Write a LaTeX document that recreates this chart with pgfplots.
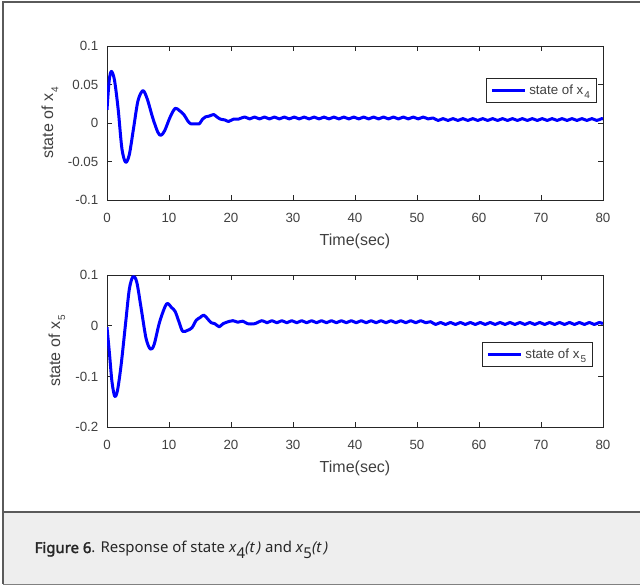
\documentclass[border=0pt]{standalone}
\usepackage{fontspec}
\setmainfont{Liberation Sans}
\newfontfamily\capfont{Noto Sans}
\newfontfamily\capfontb{Noto Sans}[FakeBold=2.2]
\usepackage{pgfplots}
\pgfplotsset{compat=1.18}
\definecolor{axc}{HTML}{262626}
\definecolor{txc}{HTML}{404040}
\definecolor{capbg}{HTML}{EEEEEE}
\definecolor{framec}{HTML}{5A5A5A}
\definecolor{lineblue}{RGB}{0,0,255}
\newcommand{\msub}[1]{\kern0.8pt\raisebox{-0.6ex}{\fontsize{7.5}{8}\selectfont #1}}

\pgfplotsset{mystyle/.style={
  scale only axis, width=372pt,
  xmin=0, xmax=80, xtick={0,10,...,80},
  tick align=inside, major tick length=4pt,
  axis line style={axc, line width=0.6pt},
  every tick/.style={axc, line width=0.6pt},
  tick label style={font=\fontsize{10}{12}\selectfont, text=txc},
  label style={font=\fontsize{12}{14}\selectfont, text=txc},
  /pgf/number format/assume math mode=true,
  xticklabel style={anchor=center, yshift=-13.5pt},
  yticklabel style={anchor=east, xshift=-3pt},
  xlabel={Time(sec)},
  xlabel style={at={(axis description cs:0.5,0)}, anchor=center, yshift=-30.75pt},
  legend style={draw=axc, line width=0.5pt, font=\fontsize{10}{12}\selectfont, text=txc,
    inner xsep=3pt, inner ysep=2.5pt, cells={anchor=west}},
  legend image code/.code={\draw[#1, line width=2.25pt] (0pt,0pt) -- (25pt,0pt);},
  no markers,
}}

\begin{document}
\begin{tikzpicture}
\useasboundingbox (0,0) rectangle (480pt,438.75pt);
\fill[capbg] (2.25pt,0.75pt) rectangle (480pt,54.75pt);
\draw[framec, line width=1.1pt] (2.25pt,0.75pt) -- (2.25pt,437.25pt) -- (480pt,437.25pt);
\draw[framec, line width=1.1pt] (2.25pt,54.75pt) -- (480pt,54.75pt);
\draw[gray, line width=0.8pt] (2.25pt,0.5pt) -- (480pt,0.5pt);
\node[anchor=base west, font=\capfont\fontsize{11.2}{13}\selectfont, text=black!85] at (22.5pt,24pt)
  {{\capfontb Figure 6}. Response of state \textit{x}\raisebox{-0.4em}{4}\textit{(t\,)} and \textit{x}\raisebox{-0.4em}{5}\textit{(t\,)}};

\begin{axis}[mystyle, at={(80.25pt,288.75pt)}, anchor=south west, height=115.5pt,
  ymin=-0.1, ymax=0.1, ytick={-0.1,-0.05,0,0.05,0.1},
  yticklabels={-0.1,-0.05,0,0.05,0.1},
  ylabel={state of x\msub{4}},
  ylabel style={at={(axis description cs:-0.115,0.5)}, anchor=center},
  legend style={at={(axis description cs:0.988,0.792)}, anchor=north east}]
\addplot[lineblue, line width=2.25pt, line join=round, smooth, mark=none] coordinates {(0,0.017)(0.35,0.055)(0.7,0.067)(1.2,0.056)(1.8,0.018)(2.4,-0.033)(3.0,-0.051)(3.6,-0.041)(4.3,-0.006)(5.0,0.029)(5.8,0.042)(6.5,0.031)(7.4,0.006)(8.2,-0.012)(8.7,-0.016)(9.3,-0.010)(10.2,0.008)(11.0,0.019)(11.7,0.016)(12.4,0.011)(13.0,0.003)(13.5,-0.001)(14.2,-0.001)(14.9,-0.001)(15.4,0.005)(15.9,0.008)(16.5,0.009)(17.2,0.011)(17.7,0.008)(18.3,0.005)(19.0,0.004)(19.6,0.002)(20.4,0.005)(21.2,0.005)
(22.2,0.0078)(23.0,0.0053)(23.8,0.0077)(24.6,0.0053)(25.4,0.0077)(26.2,0.0053)(27.0,0.0077)(27.8,0.0053)(28.6,0.0077)(29.4,0.0053)(30.2,0.0077)(31.0,0.0053)(31.8,0.0077)(32.6,0.0053)(33.4,0.0077)(34.2,0.0053)(35.0,0.0077)(35.8,0.0053)(36.6,0.0077)(37.4,0.0053)(38.2,0.0077)(39.0,0.0053)(39.8,0.0077)(40.6,0.0053)(41.4,0.0077)(42.2,0.0053)(43.0,0.0077)(43.8,0.0053)(44.6,0.0077)(45.4,0.0053)(46.2,0.0077)(47.0,0.0053)(47.8,0.0077)(48.6,0.0053)(49.4,0.0077)(50.2,0.0053)(51.0,0.0077)(51.8,0.0053)(52.6,0.0065)(53.4,0.0033)(54.2,0.0057)(55.0,0.0033)(55.8,0.0057)(56.6,0.0033)(57.4,0.0057)(58.2,0.0033)(59.0,0.0057)(59.8,0.0033)(60.6,0.0057)(61.4,0.0033)(62.2,0.0057)(63.0,0.0033)(63.8,0.0057)(64.6,0.0033)(65.4,0.0057)(66.2,0.0033)(67.0,0.0057)(67.8,0.0033)(68.6,0.0057)(69.4,0.0033)(70.2,0.0057)(71.0,0.0033)(71.8,0.0057)(72.6,0.0033)(73.4,0.0057)(74.2,0.0033)(75.0,0.0057)(75.8,0.0033)(76.6,0.0057)(77.4,0.0033)(78.2,0.0057)(79.0,0.0033)(79.8,0.0057)(80.0,0.0052)};
\addlegendentry{state of x\msub{4}}
\end{axis}

\begin{axis}[mystyle, at={(80.25pt,118.3pt)}, anchor=south west, height=114.2pt,
  ymin=-0.2, ymax=0.1, ytick={-0.2,-0.1,0,0.1},
  yticklabels={-0.2,-0.1,0,0.1},
  ylabel={state of x\msub{5}},
  ylabel style={at={(axis description cs:-0.101,0.5)}, anchor=center},
  legend style={at={(axis description cs:0.980,0.559)}, anchor=north east}]
\addplot[lineblue, line width=2.25pt, line join=round, smooth, mark=none] coordinates {(0,-0.003)(0.4,-0.055)(0.8,-0.11)(1.25,-0.139)(1.7,-0.127)(2.3,-0.075)(3.0,0.005)(3.6,0.072)(4.2,0.097)(4.8,0.086)(5.5,0.035)(6.3,-0.025)(7.0,-0.046)(7.6,-0.037)(8.5,0.008)(9.6,0.043)(10.4,0.036)(11.0,0.028)(11.6,0.008)(12.2,-0.011)(13.0,-0.009)(13.7,-0.004)(14.4,0.011)(15.0,0.016)(15.6,0.021)(16.2,0.014)(16.8,0.006)(17.4,0.004)(18.1,-0.002)(18.7,0.004)(19.3,0.007)(20.3,0.010)(21.1,0.007)(21.9,0.009)(22.7,0.004)(23.8,0.004)
(25.0,0.010)(25.8,0.006)(26.6,0.010)(27.4,0.006)(28.2,0.010)(29.0,0.006)(29.8,0.010)(30.6,0.006)(31.4,0.010)(32.2,0.006)(33.0,0.010)(33.8,0.006)(34.6,0.010)(35.4,0.006)(36.2,0.010)(37.0,0.006)(37.8,0.010)(38.6,0.006)(39.4,0.010)(40.2,0.006)(41.0,0.010)(41.8,0.006)(42.6,0.010)(43.4,0.006)(44.2,0.010)(45.0,0.006)(45.8,0.010)(46.6,0.006)(47.4,0.010)(48.2,0.006)(49.0,0.010)(49.8,0.006)(50.6,0.010)(51.4,0.006)(52.2,0.008)(53.0,0.0025)(53.8,0.0065)(54.6,0.0025)(55.4,0.0065)(56.2,0.0025)(57.0,0.0065)(57.8,0.0025)(58.6,0.0065)(59.4,0.0025)(60.2,0.0065)(61.0,0.0025)(61.8,0.0065)(62.6,0.0025)(63.4,0.0065)(64.2,0.0025)(65.0,0.0065)(65.8,0.0025)(66.6,0.0065)(67.4,0.0025)(68.2,0.0065)(69.0,0.0025)(69.8,0.0065)(70.6,0.0025)(71.4,0.0065)(72.2,0.0025)(73.0,0.0065)(73.8,0.0025)(74.6,0.0065)(75.4,0.0025)(76.2,0.0065)(77.0,0.0025)(77.8,0.0065)(78.6,0.0025)(79.4,0.0065)(80.0,0.004)};
\addlegendentry{state of x\msub{5}}
\end{axis}
\end{tikzpicture}
\end{document}
